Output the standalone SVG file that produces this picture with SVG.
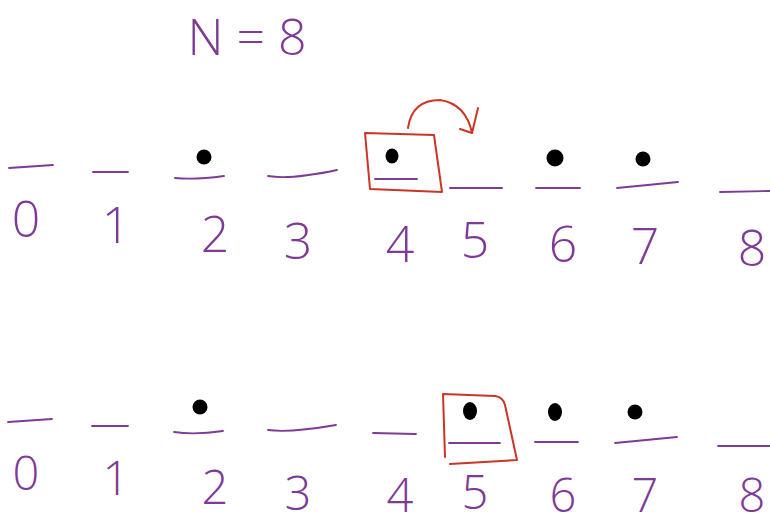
<svg xmlns="http://www.w3.org/2000/svg" width="770" height="527" viewBox="0 0 770 527">
<style>
.slot{stroke:#7e3a96;stroke-width:1.8;fill:none;stroke-linecap:round}
.dig{font-family:"Open Sans","Liberation Sans",sans-serif;font-weight:300;font-size:50px;fill:#7e3a96;text-anchor:middle}
.low{font-size:47px}
.dot{fill:#000}
.box{stroke:#cc3526;stroke-width:2;fill:none;stroke-linejoin:round;stroke-linecap:round}
</style>
<rect width="770" height="527" fill="#fff"/>
<g id="title"><text class="dig" x="247" y="55" font-size="46">N = 8</text></g>

<g id="row1">
  <g id="r1-slot0"><path class="slot" d="M9,168 L53,165"/><text class="dig" x="26" y="237">0</text></g>
  <g id="r1-slot1"><path class="slot" d="M93,172 L128,172"/><text class="dig" x="116" y="243">1</text></g>
  <g id="r1-slot2"><path class="slot" d="M175,178 Q195,180 224,176"/><circle class="dot" cx="204" cy="157" r="7.5"/><text class="dig" x="215" y="252">2</text></g>
  <g id="r1-slot3"><path class="slot" d="M268,176 Q290,180 337,170"/><text class="dig" x="298" y="259">3</text></g>
  <g id="r1-slot4"><path class="box" d="M365,133 L434,135 L442,192 L370,189 Z"/><path class="slot" d="M375,179 L417,179"/><ellipse class="dot" cx="392" cy="156" rx="6.5" ry="7.5"/><text class="dig" x="400" y="262">4</text></g>
  <g id="r1-slot5"><path class="slot" d="M450,188 L502,188"/><text class="dig" x="475" y="258">5</text></g>
  <g id="r1-slot6"><path class="slot" d="M536,188 L580,188"/><circle class="dot" cx="555" cy="158" r="8.5"/><text class="dig" x="563" y="262">6</text></g>
  <g id="r1-slot7"><path class="slot" d="M617,188 L678,182"/><circle class="dot" cx="643" cy="159" r="7.5"/><text class="dig" x="645" y="264">7</text></g>
  <g id="r1-slot8"><path class="slot" d="M720,192 L770,191"/><text class="dig" x="752" y="266">8</text></g>
</g>

<g id="row2">
  <g id="r2-slot0"><path class="slot" d="M8,422 L52,419"/><text class="dig low" x="26" y="490">0</text></g>
  <g id="r2-slot1"><path class="slot" d="M92,426 L128,426"/><text class="dig low" x="116" y="495">1</text></g>
  <g id="r2-slot2"><path class="slot" d="M174,432 Q195,435 223,431"/><circle class="dot" cx="200" cy="407" r="7.5"/><text class="dig low" x="215" y="504">2</text></g>
  <g id="r2-slot3"><path class="slot" d="M268,430 Q290,433 336,425"/><text class="dig low" x="298" y="510">3</text></g>
  <g id="r2-slot4"><path class="slot" d="M373,433 L416,434"/><text class="dig low" x="400" y="512">4</text></g>
  <g id="r2-slot5"><path class="box" d="M445,457 L443,394 L495,396 Q503,397 505,405 L517,460 L450,464"/><path class="slot" d="M449,443 L500,443"/><ellipse class="dot" cx="470" cy="411" rx="7" ry="9"/><text class="dig low" x="475" y="509">5</text></g>
  <g id="r2-slot6"><path class="slot" d="M535,442 L578,442"/><ellipse class="dot" cx="555" cy="412" rx="7" ry="9"/><text class="dig low" x="563" y="512">6</text></g>
  <g id="r2-slot7"><path class="slot" d="M615,443 L677,437"/><circle class="dot" cx="635" cy="412" r="7.5"/><text class="dig low" x="645" y="512">7</text></g>
  <g id="r2-slot8"><path class="slot" d="M718,446 L770,446"/><text class="dig low" x="752" y="512">8</text></g>
</g>

<g id="connectors">
  <path class="box" d="M408,128 Q412,100 440,100 Q466,104 472,133"/>
  <path class="box" d="M478,108 L472,133 L460,129"/>
</g>
</svg>
